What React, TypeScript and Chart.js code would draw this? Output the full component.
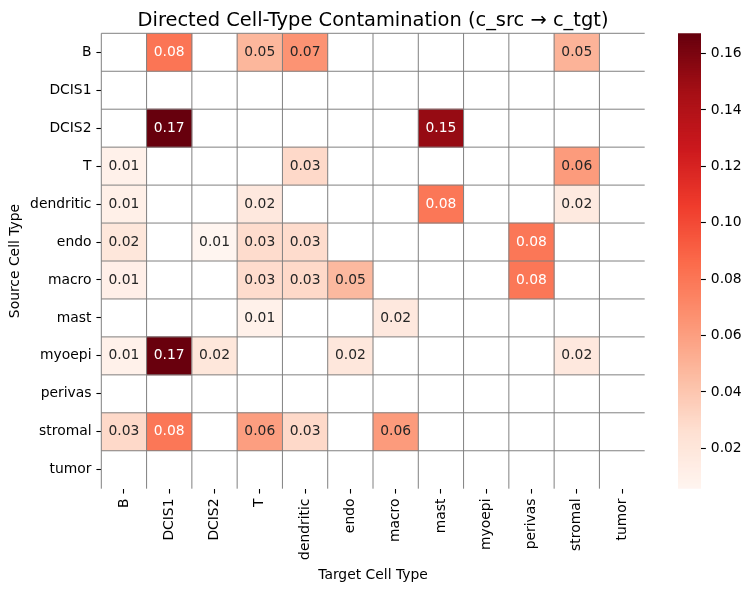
import React, { useEffect, useRef } from "react";
import { Chart, registerables } from "chart.js";

Chart.register(...registerables);

const FONT = "'DejaVu Sans', 'Liberation Sans', sans-serif";

const sourceTypes = ["B", "DCIS1", "DCIS2", "T", "dendritic", "endo", "macro", "mast", "myoepi", "perivas", "stromal", "tumor"];
const targetTypes = ["B", "DCIS1", "DCIS2", "T", "dendritic", "endo", "macro", "mast", "myoepi", "perivas", "stromal", "tumor"];

// rows = source cell type, columns = target cell type (null = blank cell)
const rowB = [null, 0.081, null, 0.048, 0.066, null, null, null, null, null, 0.05, null];
const rowDCIS1 = [null, null, null, null, null, null, null, null, null, null, null, null];
const rowDCIS2 = [null, 0.1672, null, null, null, null, null, 0.152, null, null, null, null];
const rowT = [0.01, null, null, null, 0.03, null, null, null, null, null, 0.062, null];
const rowDendritic = [0.011, null, null, 0.018, null, null, null, 0.08, null, null, 0.017, null];
const rowEndo = [0.02, null, 0.0057, 0.028, 0.028, null, null, null, null, 0.08, null, null];
const rowMacro = [0.012, null, null, 0.028, 0.03, 0.047, null, null, null, 0.08, null, null];
const rowMast = [null, null, null, 0.01, null, null, 0.018, null, null, null, null, null];
const rowMyoepi = [0.01, 0.166, 0.02, null, null, 0.019, null, null, null, null, 0.018, null];
const rowPerivas = [null, null, null, null, null, null, null, null, null, null, null, null];
const rowStromal = [0.03, 0.08, null, 0.06, 0.03, null, 0.062, null, null, null, null, null];
const rowTumor = [null, null, null, null, null, null, null, null, null, null, null, null];

const contamination: (number | null)[][] = [
  rowB, rowDCIS1, rowDCIS2, rowT, rowDendritic, rowEndo, rowMacro, rowMast, rowMyoepi, rowPerivas, rowStromal, rowTumor,
];

const colorbarTicks = [0.02, 0.04, 0.06, 0.08, 0.1, 0.12, 0.14, 0.16];

const REDS = [
  [255, 245, 240], [254, 224, 210], [252, 187, 161], [252, 146, 114], [251, 106, 74],
  [239, 59, 44], [203, 24, 29], [165, 15, 21], [103, 0, 13],
];

function lutColor(i: number): number[] {
  const t = i / 255;
  const pos = t * (REDS.length - 1);
  const k = Math.min(REDS.length - 2, Math.floor(pos));
  const f = pos - k;
  const a = REDS[k], b = REDS[k + 1];
  return [0, 1, 2].map((j) => a[j] + (b[j] - a[j]) * f);
}
function rgbStr(c: number[]) {
  return `rgb(${Math.round(c[0])},${Math.round(c[1])},${Math.round(c[2])})`;
}
function mapValue(v: number, vmin: number, vmax: number): number[] {
  const n = (v - vmin) / (vmax - vmin);
  const i = Math.max(0, Math.min(255, Math.floor(n * 256)));
  return lutColor(i);
}
function luminance(c: number[]) {
  const lin = c.map((x) => {
    const s = x / 255;
    return s <= 0.03928 ? s / 12.92 : Math.pow((s + 0.055) / 1.055, 2.4);
  });
  return 0.2126 * lin[0] + 0.7152 * lin[1] + 0.0722 * lin[2];
}

const allVals = contamination.flat().filter((v) => v != null) as number[];
const VMIN = Math.min(...allVals);
const VMAX = Math.max(...allVals);

const W = 751;
const H = 590;
const PLOT_LEFT = 101.3;
const PLOT_RIGHT = 644.7;
const PLOT_TOP = 33.3;
const PLOT_BOTTOM = 488.7;
const TICK_FONT = 13.89;

export default function App() {
  const mainRef = useRef<HTMLCanvasElement>(null);
  const cbRef = useRef<HTMLCanvasElement>(null);

  useEffect(() => {
    Chart.defaults.font.family = FONT;
    const datasets = sourceTypes.map((_, r) => ({
      label: sourceTypes[r],
      data: targetTypes.map((_, c) => (contamination[r][c] == null ? null : [r, r + 1])) as any,
      backgroundColor: targetTypes.map((_, c) => {
        const v = contamination[r][c];
        return v == null ? "rgba(0,0,0,0)" : rgbStr(mapValue(v, VMIN, VMAX));
      }),
      borderWidth: 0,
      barPercentage: 1,
      categoryPercentage: 1,
      grouped: false,
      xAxisID: "x",
      yAxisID: "y",
    }));

    const edgesPlugin = {
      id: "cellEdges",
      afterDatasetsDraw(chart: any) {
        const { ctx } = chart;
        const xs = chart.scales.x;
        const ys = chart.scales.y;
        const top = ys.getPixelForValue(0);
        const bottom = ys.getPixelForValue(sourceTypes.length);
        const left = xs.getPixelForValue(-0.5);
        const right = xs.getPixelForValue(targetTypes.length - 0.5);
        ctx.save();
        ctx.strokeStyle = "#808080";
        ctx.lineWidth = 1;
        ctx.beginPath();
        for (let k = 0; k < targetTypes.length; k++) {
          const x = xs.getPixelForValue(k - 0.5);
          ctx.moveTo(x, top);
          ctx.lineTo(x, bottom);
        }
        for (let k = 0; k < sourceTypes.length; k++) {
          const y = ys.getPixelForValue(k);
          ctx.moveTo(left, y);
          ctx.lineTo(right, y);
        }
        ctx.stroke();
        ctx.restore();
      },
    };

    const annotPlugin = {
      id: "cellAnnot",
      afterDatasetsDraw(chart: any) {
        const { ctx } = chart;
        const xs = chart.scales.x;
        const ys = chart.scales.y;
        ctx.save();
        ctx.font = `${TICK_FONT}px ${FONT}`;
        ctx.textAlign = "center";
        ctx.textBaseline = "middle";
        contamination.forEach((row, r) => {
          row.forEach((v, c) => {
            if (v == null) return;
            const col = mapValue(v, VMIN, VMAX);
            ctx.fillStyle = luminance(col) > 0.408 ? "#262626" : "#ffffff";
            ctx.fillText(v.toFixed(2), xs.getPixelForValue(c), ys.getPixelForValue(r + 0.5));
          });
        });
        ctx.restore();
      },
    };

    const titlePlugin = {
      id: "mainTitle",
      afterDraw(chart: any) {
        const { ctx, chartArea } = chart;
        ctx.save();
        ctx.font = `19.44px ${FONT}`;
        ctx.fillStyle = "#000";
        ctx.textAlign = "center";
        ctx.textBaseline = "alphabetic";
        ctx.fillText("Directed Cell-Type Contamination (c_src \u2192 c_tgt)", (chartArea.left + chartArea.right) / 2, 25.5);
        ctx.restore();
      },
    };

    const main = new Chart(mainRef.current as HTMLCanvasElement, {
      type: "bar",
      data: { labels: targetTypes, datasets },
      options: {
        responsive: false,
        animation: false,
        layout: { padding: { left: 0, top: PLOT_TOP, right: W - PLOT_RIGHT, bottom: 0 } },
        plugins: { legend: { display: false }, tooltip: { enabled: false }, title: { display: false } },
        scales: {
          x: {
            type: "category",
            offset: true,
            grid: { offset: false, drawOnChartArea: false, drawTicks: true, tickLength: 4.9, tickWidth: 1.1, tickColor: "#000" },
            border: { display: false },
            ticks: { autoSkip: false, minRotation: 90, maxRotation: 90, padding: 4.9, color: "#000", font: { size: TICK_FONT, family: FONT } },
            title: { display: true, text: "Target Cell Type", color: "#000", font: { size: TICK_FONT, family: FONT }, padding: { top: 0, bottom: 6 } },
            afterFit: (s: any) => { s.height = H - PLOT_BOTTOM; },
          },
          y: {
            type: "linear",
            min: 0,
            max: sourceTypes.length,
            reverse: true,
            offset: false,
            afterBuildTicks: (s: any) => { s.ticks = sourceTypes.map((_, i) => ({ value: i + 0.5 })); },
            grid: { offset: false, drawOnChartArea: false, drawTicks: true, tickLength: 4.9, tickWidth: 1.1, tickColor: "#000" },
            border: { display: false },
            ticks: { autoSkip: false, padding: 4.9, color: "#000", font: { size: TICK_FONT, family: FONT }, callback: (_v: any, i: number) => sourceTypes[i] },
            title: { display: true, text: "Source Cell Type", color: "#000", font: { size: TICK_FONT, family: FONT }, padding: { top: 6.7, bottom: 0 } },
            afterFit: (s: any) => { s.width = PLOT_LEFT; },
          },
        },
      } as any,
      plugins: [edgesPlugin, annotPlugin, titlePlugin],
    });

    // colorbar
    const N = 256;
    const segLabels = Array.from({ length: N }, (_, i) => String(i));
    const cb = new Chart(cbRef.current as HTMLCanvasElement, {
      type: "bar",
      data: {
        labels: segLabels,
        datasets: [
          {
            data: segLabels.map(() => [0, 1]) as any,
            backgroundColor: segLabels.map((_, i) => rgbStr(lutColor(i))),
            borderWidth: 0,
            inflateAmount: 0.6,
            barPercentage: 1,
            categoryPercentage: 1,
            xAxisID: "x",
            yAxisID: "yc",
          },
        ],
      },
      options: {
        indexAxis: "y",
        responsive: false,
        animation: false,
        layout: { padding: { left: 18, top: PLOT_TOP, right: 0, bottom: H - PLOT_BOTTOM } },
        plugins: { legend: { display: false }, tooltip: { enabled: false } },
        scales: {
          yc: { type: "category", display: false, reverse: true, offset: true },
          x: { type: "linear", display: false, min: 0, max: 1 },
          yv: {
            type: "linear",
            position: "right",
            min: VMIN,
            max: VMAX,
            offset: false,
            afterBuildTicks: (s: any) => { s.ticks = colorbarTicks.map((v) => ({ value: v })); },
            grid: { offset: false, drawOnChartArea: false, drawTicks: true, tickLength: 4.9, tickWidth: 1.1, tickColor: "#000" },
            border: { display: false },
            ticks: { autoSkip: false, padding: 4.9, color: "#000", font: { size: TICK_FONT, family: FONT }, callback: (v: any) => Number(v).toFixed(2) },
            afterFit: (s: any) => { s.width = 50; },
          },
        },
      } as any,
    });

    return () => {
      main.destroy();
      cb.destroy();
    };
  }, []);

  return (
    <div style={{ position: "fixed", left: 0, top: 0, width: W, height: H, background: "#fff" }}>
      <canvas ref={mainRef} width={W} height={H} style={{ position: "absolute", left: 0, top: 0, width: W, height: H }} />
      <canvas ref={cbRef} width={91} height={H} style={{ position: "absolute", left: 660, top: 0, width: 91, height: H }} />
    </div>
  );
}
